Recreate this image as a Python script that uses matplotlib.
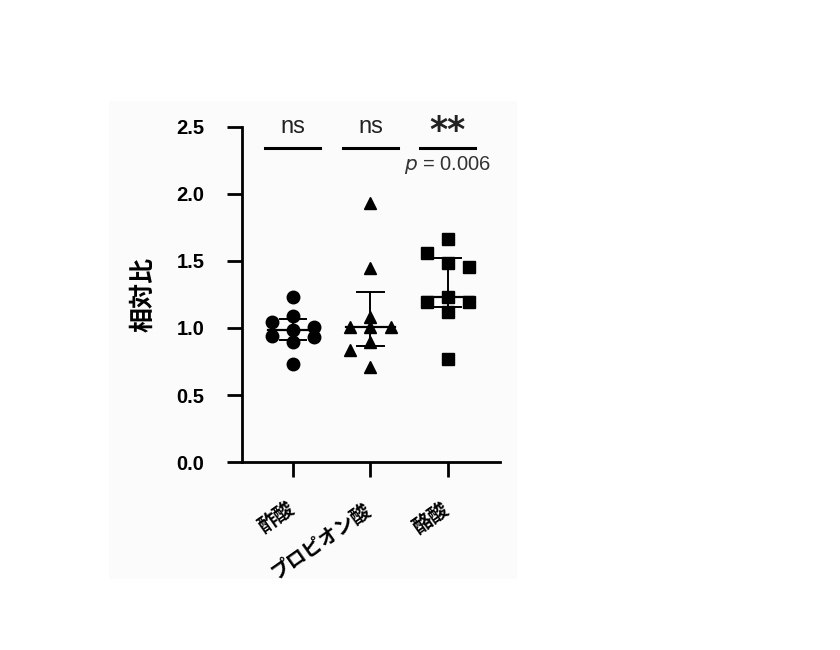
import matplotlib.pyplot as plt
import numpy as np

plt.rcParams['font.family'] = ['Liberation Sans', 'Noto Sans CJK JP', 'DejaVu Sans']

# データ (相対比)
groups = ['酢酸', 'プロピオン酸', '酪酸']
acetic = [1.234, 1.09, 1.047, 1.01, 0.985, 0.943, 0.93, 0.893, 0.729]
propionic = [1.935, 1.445, 1.085, 1.01, 1.01, 1.01, 0.898, 0.836, 0.707]
butyric = [1.664, 1.557, 1.487, 1.457, 1.234, 1.196, 1.196, 1.122, 0.766]
sig_labels = ['ns', 'ns', '**']
p_text = '= 0.006'
yticks = [0.0, 0.5, 1.0, 1.5, 2.0, 2.5]

data = [acetic, propionic, butyric]
markers = ['o', '^', 's']
msizes = [9, 8.5, 8.5]


def swarm(vals, step=0.27, thr=0.11):
    # simple beeswarm with 3 columns
    placed = []
    out = []
    for v in vals:
        best_k, best_d = 0, -1
        for k in [0, -1, 1]:
            d = min([abs(pv - v) for (pk, pv) in placed if pk == k] + [9])
            if d >= thr:
                best_k = k
                break
            if d > best_d:
                best_k, best_d = k, d
        placed.append((best_k, v))
        out.append(best_k * step)
    return np.array(out)


fig = plt.figure(figsize=(8.4, 6.5), dpi=100)
# faint background panel like the scanned figure
fig.patches.append(plt.Rectangle((0.13, 0.11), 0.485, 0.735, transform=fig.transFigure,
                                 facecolor='#fbfbfb', edgecolor='none', zorder=-10))
ax = fig.add_axes([0.288, 0.289, 0.307, 0.516])
ax.patch.set_alpha(0)

for i, vals in enumerate(data):
    vals = np.array(vals)
    xs = i + swarm(vals)
    ax.plot(xs, vals, linestyle='none', marker=markers[i], markersize=msizes[i],
            color='black', clip_on=False, zorder=3)
    med = np.median(vals)
    q1, q3 = np.percentile(vals, [25, 75], method='weibull')
    ax.plot([i - 0.32, i + 0.32], [med, med], color='black', lw=1.6, zorder=2)
    ax.plot([i, i], [q1, q3], color='black', lw=1.4, zorder=2)
    ax.plot([i - 0.17, i + 0.17], [q1, q1], color='black', lw=1.4, zorder=2)
    ax.plot([i - 0.17, i + 0.17], [q3, q3], color='black', lw=1.4, zorder=2)
    # significance
    ax.plot([i - 0.36, i + 0.35], [2.34, 2.34], color='black', lw=2.2, clip_on=False)
    if sig_labels[i] == 'ns':
        ax.text(i, 2.5, 'ns', ha='center', va='center', fontsize=17, color='#222222',
                clip_on=False)
    else:
        ax.text(i, 2.47, sig_labels[i], ha='center', va='center', fontsize=25,
                fontweight='bold', family='DejaVu Sans', color='#222222', clip_on=False)
        ax.text(i, 2.215, r'$p$ ' + p_text, ha='center', va='center', fontsize=14.5,
                color='#333333', clip_on=False)
    # category label, rotated
    ax.annotate(groups[i], xy=(i, 0), xycoords=('data', 'axes fraction'),
                xytext=(-4.5, -27), textcoords='offset points',
                ha='right', va='top', rotation=35, rotation_mode='anchor',
                fontsize=14, fontweight='bold', family=['Noto Sans CJK JP'])

ax.set_xlim(-0.66, 2.67)
ax.set_ylim(0, 2.5)
ax.set_yticks(yticks)
ax.set_yticklabels(['%.1f' % t for t in yticks], fontsize=14.5, fontweight='bold')
ax.set_xticks(range(3))
ax.set_xticklabels([])
ax.tick_params(axis='both', width=2, length=11, direction='out')
ax.tick_params(axis='y', pad=16)
for s in ['top', 'right']:
    ax.spines[s].set_visible(False)
for s in ['left', 'bottom']:
    ax.spines[s].set_linewidth(2)

ax.set_ylabel('相対比', fontsize=18, fontweight='bold', family=['Noto Sans CJK JP'], labelpad=15)

fig.savefig('out.png', dpi=100)
